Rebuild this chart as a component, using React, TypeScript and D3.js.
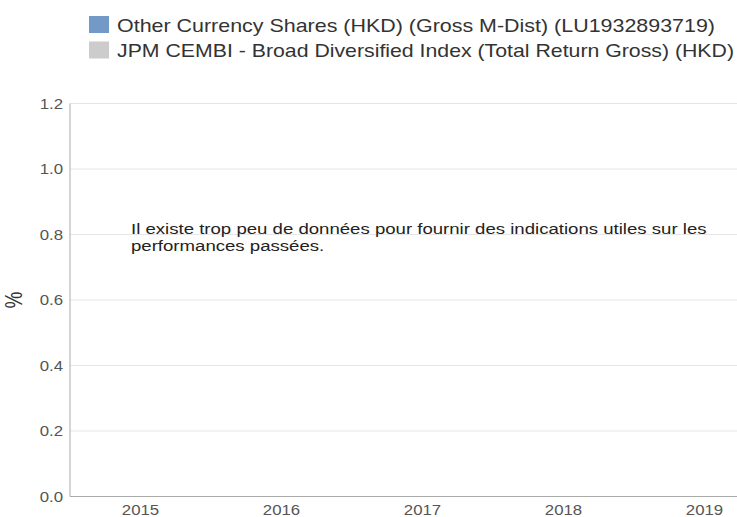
import React from "react";
import * as d3 from "d3";

const categories = ["2015", "2016", "2017", "2018", "2019"];
const yTicks = [0, 0.2, 0.4, 0.6, 0.8, 1.0, 1.2];
const seriesNames = [
  "Other Currency Shares (HKD) (Gross M-Dist) (LU1932893719)",
  "JPM CEMBI - Broad Diversified Index (Total Return Gross) (HKD)",
];
const seriesColors = ["#7399c6", "#cccccc"];
const fundValues: (number | null)[] = [null, null, null, null, null];
const indexValues: (number | null)[] = [null, null, null, null, null];
const message = [
  "Il existe trop peu de données pour fournir des indications utiles sur les",
  "performances passées.",
];

const W = 737;
const H = 517;
const left = 70;
const right = 737;
const top = 103.5;
const bottom = 496.5;
const SX = 1.2;
const legendWidths = [598, 617];

function T(props: { x: number; y: number; size: number; fill: string; anchor?: string; children: any; sx?: number }) {
  const { x, y, size, fill, anchor, children, sx } = props;
  return (
    <text transform={`translate(${x},${y}) scale(${sx ?? SX},1)`} fontSize={size} fill={fill} textAnchor={anchor || "start"}>
      {children}
    </text>
  );
}

export default function App() {
  const x = d3.scaleBand<string>().domain(categories).range([left, 775]).padding(0);
  const y = d3.scaleLinear().domain([0, 1.2]).range([bottom, top]);
  const font = "'Liberation Sans', Arial, sans-serif";
  const series = [fundValues, indexValues];
  return (
    <div style={{ position: "absolute", left: 0, top: 0 }}>
      <svg width={W} height={H} style={{ display: "block" }} fontFamily={font}>
        <rect width={W} height={H} fill="#fff" />
        {seriesNames.map((n, i) => (
          <g key={n}>
            <rect x={89} y={16 + i * 25.5} width={20} height={17} fill={seriesColors[i]} />
            <text
              x={117}
              y={31.5 + i * 25.5}
              fontSize={18.5}
              fill="#333"
              textLength={legendWidths[i]}
              lengthAdjust="spacingAndGlyphs"
            >
              {n}
            </text>
          </g>
        ))}
        {yTicks.map((t) => (
          <g key={t}>
            {t > 0 && (
              <line x1={left} x2={right} y1={y(t)} y2={y(t)} stroke="#e6e6e6" strokeWidth={1} />
            )}
            <T x={63} y={y(t) + 5} anchor="end" size={14} fill="#555">
              {t.toFixed(1)}
            </T>
          </g>
        ))}
        <line x1={left} x2={left} y1={top} y2={bottom} stroke="#aaa" />
        <line x1={left} x2={right} y1={bottom} y2={bottom} stroke="#aaa" />
        {categories.map((c) => (
          <T key={c} x={x(c)! + x.bandwidth() / 2} y={515} anchor="middle" size={14} fill="#555">
            {c}
          </T>
        ))}
        {series.map((vals, si) =>
          vals.map((v, i) =>
            v == null ? null : (
              <rect
                key={`${si}-${i}`}
                x={x(categories[i])! + (x.bandwidth() / 2) * si}
                width={x.bandwidth() / 2}
                y={y(Math.max(0, v))}
                height={Math.abs(y(v) - y(0))}
                fill={seriesColors[si]}
              />
            )
          )
        )}
        <text transform="translate(22, 300) scale(1.25,1) rotate(-90)" textAnchor="middle" fontSize={19} fill="#333">
          %
        </text>
        {message.map((m, i) => (
          <T key={i} x={131} y={233.5 + i * 17} size={15.5} fill="#222">
            {m}
          </T>
        ))}
      </svg>
    </div>
  );
}
